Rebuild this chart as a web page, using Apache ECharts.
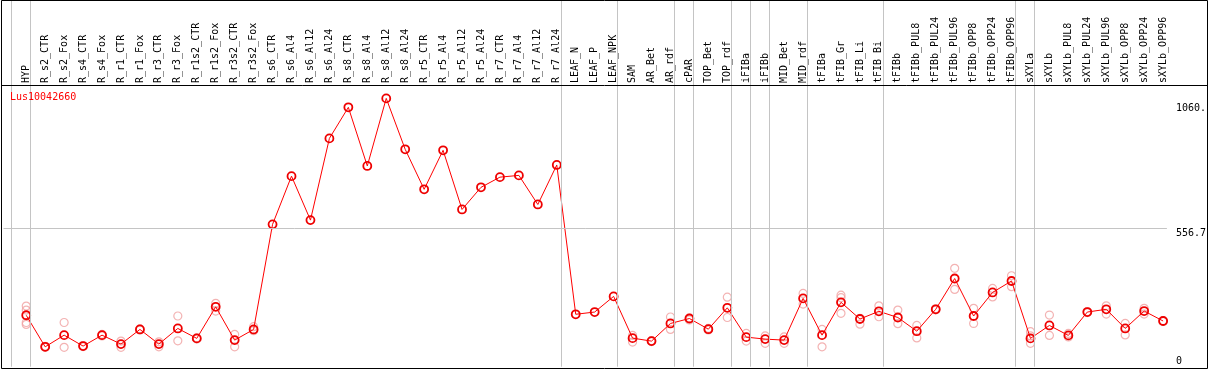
<!DOCTYPE html>
<html>
<head>
<meta charset="utf-8">
<script src="https://cdn.jsdelivr.net/npm/echarts@6/dist/echarts.min.js"></script>
<style>
html,body{margin:0;padding:0;background:#fff;}
#chart{width:1209px;height:370px;}
</style>
</head>
<body>
<div id="chart"></div>
<script>
const geneName = 'Lus10042660';
const categories = ['HYP','R_s2_CTR','R_s2_Fox','R_s4_CTR','R_s4_Fox','R_r1_CTR','R_r1_Fox','R_r3_CTR','R_r3_Fox','R_r1s2_CTR','R_r1s2_Fox','R_r3s2_CTR','R_r3s2_Fox','R_s6_CTR','R_s6_Al4','R_s6_Al12','R_s6_Al24','R_s8_CTR','R_s8_Al4','R_s8_Al12','R_s8_Al24','R_r5_CTR','R_r5_Al4','R_r5_Al12','R_r5_Al24','R_r7_CTR','R_r7_Al4','R_r7_Al12','R_r7_Al24','LEAF_N','LEAF_P','LEAF_NPK','SAM','AR_Bet','AR_rdf','cPAR','TOP_Bet','TOP_rdf','iFIBa','iFIBb','MID_Bet','MID_rdf','tFIBa','tFIB_Gr','tFIB_Li','tFIB_Bi','tFIBb','tFIBb_PUL8','tFIBb_PUL24','tFIBb_PUL96','tFIBb_OPP8','tFIBb_OPP24','tFIBb_OPP96','sXYLa','sXYLb','sXYLb_PUL8','sXYLb_PUL24','sXYLb_PUL96','sXYLb_OPP8','sXYLb_OPP24','sXYLb_OPP96'];
const meanValues = [207,80,127,83,127,91,150,91,154,114,241,107,150,573,767,590,919,1044,808,1080,875,714,871,633,722,763,770,653,812,211,220,283,115,103,174,194,151,237,119,111,107,275,127,259,192,223,198,143,231,355,204,299,345,114,166,126,220,231,154,224,184];
const repHigh = [244,82,178,85,130,103,152,100,204,116,255,130,161,null,null,null,null,null,null,null,null,null,null,null,null,null,null,null,null,null,null,null,126,105,200,196,154,280,134,124,120,295,150,288,195,245,228,166,233,396,235,315,366,141,208,134,222,245,174,235,186];
const repLow = [170,78,78,81,124,78,148,80,104,112,224,80,145,null,null,null,null,null,null,null,null,null,null,null,null,null,null,null,null,null,null,null,99,101,150,188,148,198,103,94,94,252,80,215,171,201,173,116,229,311,174,281,322,94,126,120,218,212,128,212,182];
const repExtra = [228,null,null,null,null,null,null,null,null,null,null,null,null,null,null,null,null,null,null,null,null,null,null,null,null,null,null,null,null,null,null,null,null,null,null,null,null,null,null,null,null,null,null,278,null,null,null,null,null,null,null,null,null,124,null,null,null,null,null,null,null];
const repExtra2 = [178,null,null,null,null,null,null,null,null,null,null,null,null,null,null,null,null,null,null,null,null,null,null,null,null,null,null,null,null,null,null,null,null,null,null,null,null,null,null,null,null,null,null,null,null,null,null,null,null,null,null,null,null,null,null,null,null,null,null,null,null];
const groupEnds = [-1,0,28,31,34,35,37,38,39,41,45,52,53,60];
const yTickValues = [556.7,1060];
const yTickLabels = ['556.7','1060.'];
const yZeroValue = [0];
const yZeroLabel = ['0'];

const FONT = 'DejaVu Sans Mono';
const chart = echarts.init(document.getElementById('chart'), null, {renderer:'canvas'});

const catIdx = categories.map((_, i) => i);
const repData = [];
[repHigh, repLow, repExtra, repExtra2].forEach(arr => {
  arr.forEach((v, i) => { if (v !== null) repData.push([i, v]); });
});
const meanData = meanValues.map((v, i) => [i, v]);

const option = {
  animation: false,
  backgroundColor: '#fff',
  title: {
    text: geneName, left: 10, top: 92, padding: 0,
    textStyle: {color: '#ff0000', fontSize: 10, fontWeight: 'normal', fontFamily: FONT}
  },
  grid: {left: 3.5, right: 38.9, top: 1, bottom: 3.3},
  xAxis: {
    type: 'value', min: -1.2, max: 60.2, position: 'top', offset: -85,
    axisLine: {show: false}, axisTick: {show: false}, splitLine: {show: false},
    axisLabel: {
      customValues: catIdx, rotate: 90, margin: 3,
      fontSize: 10, fontFamily: FONT, color: '#000',
      formatter: v => categories[Math.round(v)] || ''
    }
  },
  yAxis: [{
    type: 'value', min: 0, max: 1472, position: 'right',
    axisLine: {show: false}, axisTick: {show: false}, splitLine: {show: false},
    axisLabel: {
      customValues: yTickValues, margin: 9, verticalAlign: 'top',
      fontSize: 10, fontFamily: FONT, color: '#000',
      formatter: v => { const k = yTickValues.findIndex(t => Math.abs(t - v) < 1e-6); return k >= 0 ? yTickLabels[k] : ''; }
    }
  }, {
    type: 'value', min: 0, max: 1472, position: 'right',
    axisLine: {show: false}, axisTick: {show: false}, splitLine: {show: false},
    axisLabel: {
      customValues: yZeroValue, margin: 9, verticalAlign: 'bottom',
      fontSize: 10, fontFamily: FONT, color: '#000',
      formatter: v => yZeroLabel[0]
    }
  }],
  series: [{
    type: 'scatter', data: repData, z: 2,
    symbol: 'circle', symbolSize: 8,
    itemStyle: {color: 'rgba(0,0,0,0)', borderColor: '#f0a0a0', borderWidth: 1.2},
    markLine: {
      silent: true, symbol: 'none', animation: false,
      label: {show: false},
      lineStyle: {color: '#c4c4c4', width: 1, type: 'solid'},
      data: groupEnds.map(g => ({xAxis: g + 0.21})).concat([{yAxis: 556.7}])
    }
  }, {
    type: 'line', data: meanData, z: 3,
    symbol: 'circle', symbolSize: 8,
    lineStyle: {color: '#ff0000', width: 1},
    itemStyle: {color: 'rgba(0,0,0,0)', borderColor: '#ee0000', borderWidth: 1.8}
  }],
  graphic: [{
    type: 'rect', shape: {x: 1.5, y: 0.5, width: 1206, height: 368}, z: 100,
    style: {fill: 'none', stroke: '#000', lineWidth: 1}
  }, {
    type: 'line', shape: {x1: 1, y1: 85.5, x2: 1208, y2: 85.5}, z: 100,
    style: {stroke: '#000', lineWidth: 1}
  }]
};
chart.setOption(option);
</script>
</body>
</html>
